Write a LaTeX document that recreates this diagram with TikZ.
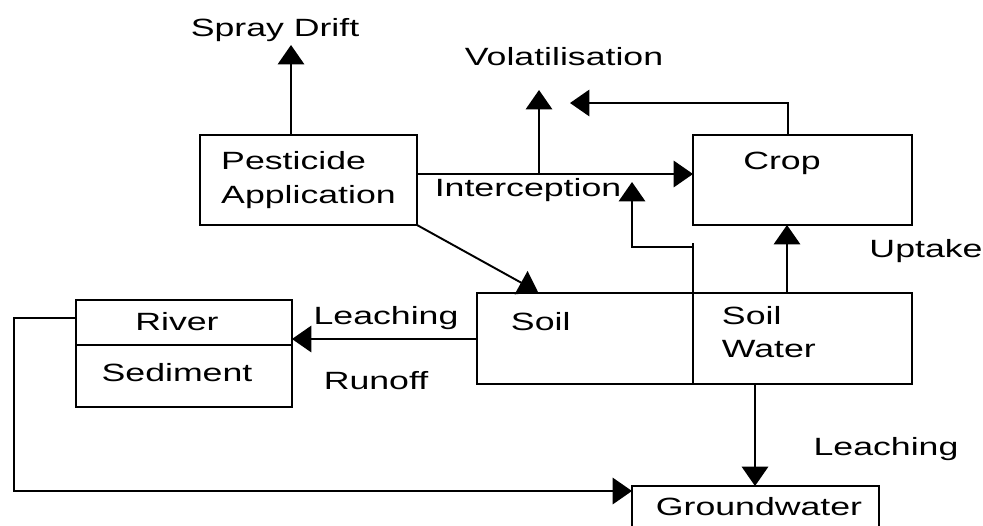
\documentclass[tikz,border=0pt]{standalone}
\usepackage{fontspec}
\setmainfont[FakeStretch=1.43]{Liberation Sans}
\usetikzlibrary{positioning,arrows.meta}

\begin{document}
\begin{tikzpicture}[x=0.02cm, y=-0.02cm, line width=1.1pt,
    every node/.style={font=\fontsize{14.2}{19}\selectfont, inner sep=0pt},
    box/.style={draw, line width=1.1pt, outer sep=0pt},
    flow/.style={-{Triangle[width=15pt,length=11pt]}}]
        \useasboundingbox (0,0) rectangle (983,525);
        \clip (0,0) rectangle (983,525);

        % Pesticide application box
        \node (pest) [box, minimum width=4.34cm, minimum height=1.8cm, align=left] at (308.5,180)
            {Pesticide\\Application};
        % Crop box
        \node (crop) [box, minimum width=4.38cm, minimum height=1.8cm] at (802.5,180) {};
        \node (croptxt) at (782,163) {Crop};
        % Soil and soil water boxes
        \node (soil) [box, minimum width=4.32cm, minimum height=1.82cm] at (585,338.5) {};
        \node (water) [box, minimum width=4.38cm, minimum height=1.82cm, right=0pt of soil] {};
        \node (soiltxt) [anchor=west] at (510,322) {Soil};
        \node (watertxt) [anchor=west, align=left] at (721,332) {Soil\\Water};
        % River and sediment boxes
        \node (river) [box, minimum width=4.32cm, minimum height=0.9cm] at (184,322.5) {};
        \node (sed) [box, minimum width=4.32cm, minimum height=1.24cm, below=0pt of river] {};
        \node (rivertxt) at (177,322) {River};
        \node (sedtxt) at (177,373) {Sediment};
        % Groundwater box
        \node (ground) [box, minimum width=4.94cm, minimum height=1.4cm, anchor=north west] at (632,486) {};
        \node (groundtxt) at (759,507) {Groundwater};

        % Labels
        \node (drift) at (275,30) {Spray Drift};
        \node (vol) at (564,57) {Volatilisation};
        \node (interc) at (528,190) {Interception};
        \node (uptake) at (926,251) {Uptake};
        \node (leachL) at (386,318) {Leaching};
        \node (runoff) at (376,381) {Runoff};
        \node (leachD) at (886,449) {Leaching};

        % Helper points
        \coordinate (driftTip) at (291,45);
        \coordinate (intc) at (0,174);
        \coordinate (volTip) at (539,90);
        \coordinate (cv) at (788,103);
        \coordinate (cvTip) at (570,103);
        \coordinate (upt) at (787,0);
        \coordinate (bkTop) at (693,243);
        \coordinate (bk) at (632,247);
        \coordinate (bkTip) at (632,182);
        \coordinate (soilTip) at (538,292);
        \coordinate (lch) at (0,339);
        \coordinate (gl) at (755,0);
        \coordinate (rv) at (14,318);
        \coordinate (rvLow) at (14,491);

        % Arrows
        \draw[flow] (pest.north -| driftTip) -- (driftTip);
        \draw[flow] (pest.east |- intc) -- (crop.west |- intc);
        \draw[flow] (volTip |- intc) -- (volTip);
        \draw[flow] (cv |- crop.north) -- (cv) -- (cvTip);
        \draw[flow] (water.north -| upt) -- (crop.south -| upt);
        \draw (soil.north east) -- (bkTop);
        \draw[flow] (bkTop |- bk) -- (bk) -- (bkTip);
        \draw[flow] (pest.south east) -- (soilTip);
        \draw[flow] (soil.west |- lch) -- (river.east |- lch);
        \draw[flow] (water.south -| gl) -- (ground.north -| gl);
        \draw[flow] (river.west |- rv) -- (rv) -- (rvLow) -- (ground.west |- rvLow);
    \end{tikzpicture}
\end{document}
